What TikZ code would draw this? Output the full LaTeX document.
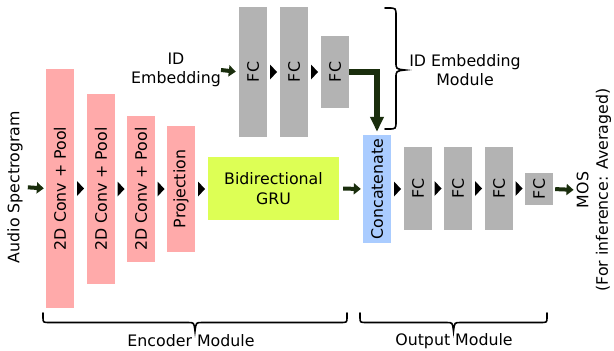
\documentclass[tikz,border=0pt]{standalone}
\usepackage{fontspec}
\setmainfont{DejaVu Sans}
\usepackage{graphicx}
\usetikzlibrary{arrows.meta,calc}
\definecolor{pinkc}{HTML}{FFAAAA}
\definecolor{grayc}{HTML}{B3B3B3}
\definecolor{gruc}{HTML}{DDFF55}
\definecolor{bluec}{HTML}{AACCFF}
\definecolor{arrc}{HTML}{1A2E0D}
% horizontal brace opening upward: #1 left x, #2 right x, #3 tip x, #4 end y
\newcommand\myHbrace[4]{%
  \draw[bracestyle] (#1,#4) -- (#1,#4+4)
    .. controls (#1,#4+9.5) .. (#1+6,#4+9.5) -- (#3-7,#4+9.5)
    .. controls (#3-1,#4+9.5) .. (#3,#4+18)
    .. controls (#3+1,#4+9.5) .. (#3+7,#4+9.5) -- (#2-6,#4+9.5)
    .. controls (#2,#4+9.5) .. (#2,#4+4) -- (#2,#4);}
% vertical brace opening left: #1 top y, #2 bottom y, #3 tip y, #4 end x
\newcommand\myVbrace[4]{%
  \draw[bracestyle] (#4,#1) -- (#4+3,#1)
    .. controls (#4+11,#1) .. (#4+11,#1+8) -- (#4+11,#3-8)
    .. controls (#4+11,#3-1) .. (#4+20,#3)
    .. controls (#4+11,#3+1) .. (#4+11,#3+8) -- (#4+11,#2-8)
    .. controls (#4+11,#2) .. (#4+3,#2) -- (#4,#2);}
\begin{document}
\begin{tikzpicture}[x=1pt,y=-1pt,
  every node/.style={font=\fontsize{15.8}{19.5}\selectfont},
  blk/.style={inner sep=0pt, minimum width=28pt, draw=none},
  pinkbox/.style={blk, fill=pinkc},
  graybox/.style={blk, fill=grayc},
  garrow/.style={draw=arrc, line width=4pt, -{Triangle[length=7pt,width=11pt]}},
  bigarrow/.style={draw=arrc, line width=5.5pt, -{Triangle[length=15pt,width=13pt]}},
  bracestyle/.style={line width=1.6pt, line cap=round},
  txt/.style={inner sep=0pt, align=center}
]
\useasboundingbox (0,0) rectangle (614,351);

% encoder
\node[pinkbox, minimum height=239pt] (c1) at (60,188.5) {\rotatebox{90}{2D Conv + Pool}};
\node[pinkbox, minimum height=190pt] (c2) at (101,189) {\rotatebox{90}{2D Conv + Pool}};
\node[pinkbox, minimum height=146pt] (c3) at (141,189) {\rotatebox{90}{2D Conv + Pool}};
\node[pinkbox, minimum height=126pt] (proj) at (181,189) {\rotatebox{90}{Projection}};
\node[blk, fill=gruc, minimum width=131pt, minimum height=63pt, align=center] (gru) at (273.5,188.5) {Bidirectional\\GRU};

% id embedding
\node[graybox, minimum height=130pt] (f1) at (253,72) {\rotatebox{90}{FC}};
\node[graybox, minimum height=130pt] (f2) at (294,72) {\rotatebox{90}{FC}};
\node[graybox, minimum height=72pt] (f3) at (335,72) {\rotatebox{90}{FC}};

% output
\node[blk, fill=bluec, minimum height=108pt] (cat) at (377,189) {\rotatebox{90}{Concatenate}};
\node[graybox, minimum height=83pt] (o1) at (418,188.5) {\rotatebox{90}{FC}};
\node[graybox, minimum height=83pt] (o2) at (458,188.5) {\rotatebox{90}{FC}};
\node[graybox, minimum height=83pt] (o3) at (499,188.5) {\rotatebox{90}{FC}};
\node[graybox, minimum height=32pt] (o4) at (539,189) {\rotatebox{90}{FC}};

% texts
\node[txt, rotate=90] (audio) at (15,187) {Audio Spectrogram};
\node[txt] (idtxt) at (176,70) {ID\\Embedding};
\node[txt, rotate=90] (mos) at (594,190) {MOS\\(For inference: Averaged)};
\node[txt] (idmod) at (465,70) {ID Embedding\\Module};
\node[txt] (encmod) at (191,341) {Encoder Module};
\node[txt] (outmod) at (454,341) {Output Module};

% green arrows
\draw[garrow, shorten <=5pt, shorten >=2pt] (audio.south) -- (c1.west);
\draw[garrow, shorten <=4pt, shorten >=2pt] (gru.east) -- (cat.west);
\draw[garrow, shorten <=2pt, shorten >=3pt] (o4.east) -- (mos.north);
\draw[garrow, shorten <=0pt, shorten >=3pt] (idtxt.east) -- (f1.west);
\draw[bigarrow, shorten >=3pt] (f3.east) -| (cat.north);

% black triangles between blocks
\foreach \a/\b [count=\i] in {c1/c2, c2/c3, c3/proj, proj/gru, f1/f2, f2/f3, cat/o1, o1/o2, o2/o3, o3/o4}{
  \path (\a.east) -- coordinate (m\i) (\a.east -| \b.west);
  \fill[black] (m\i) +(-3.5,-7.5) -- +(3.5,0) -- +(-3.5,7.5) -- cycle;
}

% braces
\myHbrace{43}{347}{195}{313}
\myHbrace{360}{547}{453.5}{313}
\myVbrace{8}{129}{70}{385}
\end{tikzpicture}
\end{document}
